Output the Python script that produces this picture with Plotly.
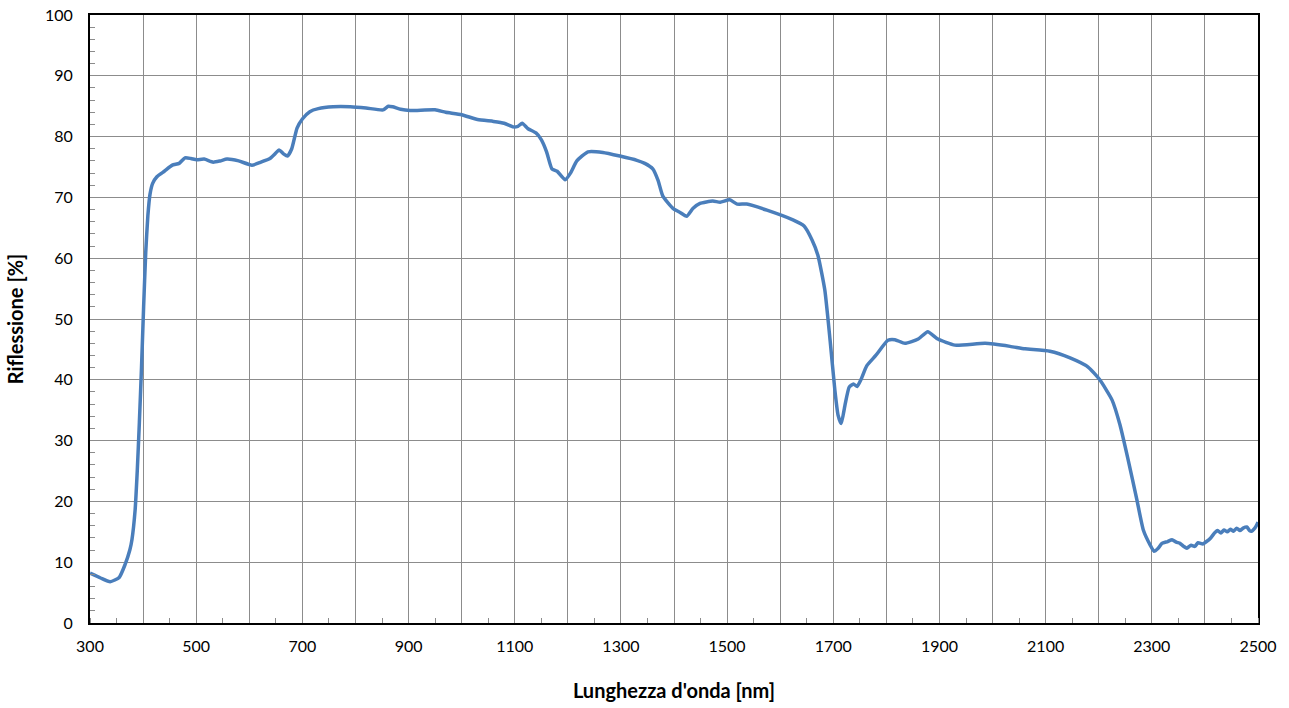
import plotly.graph_objects as go

# Wavelength [nm]
wavelength = [
    300, 320, 338, 355, 366, 375, 379, 385, 389, 393,
    397, 401, 405, 409, 413, 418, 426, 440, 455, 468,
    479, 490, 501, 515, 532, 545, 558, 580, 605, 622,
    639, 650, 656, 664, 672, 680, 690, 700, 714, 730,
    758, 790, 820, 852, 862, 870, 885, 903, 950, 970,
    1000, 1030, 1060, 1080, 1097, 1106, 1114, 1125, 1140, 1150,
    1160, 1170, 1180, 1195, 1205, 1217, 1238, 1266, 1298, 1330,
    1345, 1360, 1370, 1379, 1398, 1410, 1424, 1436, 1449, 1473,
    1487, 1505, 1519, 1537, 1575, 1624, 1645, 1660, 1671, 1684,
    1694, 1703, 1709, 1715, 1722, 1730, 1738, 1745, 1752, 1763,
    1780, 1803, 1816, 1835, 1860, 1878, 1897, 1929, 1986, 2033,
    2061, 2108, 2146, 2180, 2202, 2225, 2240, 2255, 2272, 2284,
    2297, 2304, 2312, 2319, 2330, 2338, 2346, 2353, 2360, 2366,
    2374, 2381, 2387, 2396, 2403, 2410, 2419, 2424, 2430, 2436,
    2442, 2448, 2454, 2460, 2466, 2472, 2479, 2484, 2488, 2494,
    2498, 2500,
]

# Reflectance [%]
reflectance = [
    8.2, 7.4, 6.8, 7.5, 9.6, 12.0, 13.7, 18.6, 25.0, 33.0,
    42.0, 52.0, 61.0, 67.0, 70.5, 72.3, 73.4, 74.3, 75.3, 75.6,
    76.5, 76.4, 76.2, 76.3, 75.8, 76.0, 76.3, 76.0, 75.3, 75.8,
    76.4, 77.3, 77.8, 77.2, 76.8, 78.0, 81.4, 82.9, 84.1, 84.6,
    84.9, 84.9, 84.7, 84.4, 85.0, 84.9, 84.5, 84.3, 84.4, 84.0,
    83.6, 82.8, 82.5, 82.2, 81.6, 81.7, 82.2, 81.3, 80.6, 79.5,
    77.5, 74.7, 74.3, 72.9, 74.0, 76.0, 77.5, 77.4, 76.8, 76.1,
    75.6, 74.7, 72.8, 70.2, 68.2, 67.6, 66.9, 68.2, 69.0, 69.4,
    69.2, 69.6, 68.9, 68.9, 67.9, 66.3, 65.3, 63.0, 60.5, 54.8,
    46.5, 38.3, 34.2, 32.8, 35.8, 38.8, 39.3, 38.9, 40.0, 42.3,
    44.0, 46.5, 46.6, 46.0, 46.7, 47.9, 46.7, 45.7, 46.0, 45.5,
    45.1, 44.7, 43.6, 42.1, 40.0, 36.7, 32.6, 27.0, 20.2, 15.3,
    12.8, 11.8, 12.3, 13.1, 13.4, 13.7, 13.3, 13.1, 12.6, 12.3,
    12.8, 12.6, 13.2, 13.0, 13.4, 13.9, 14.9, 15.2, 14.8, 15.3,
    15.0, 15.4, 15.1, 15.6, 15.2, 15.6, 15.8, 15.2, 15.1, 15.6,
    16.2, 16.6,
]

x_grid = list(range(300, 2501, 100))
x_labels = [str(v) if (v - 300) % 200 == 0 else "" for v in x_grid]

font_family = "Lato, 'Open Sans', Arial, sans-serif"

fig = go.Figure()
fig.add_trace(go.Scatter(
    x=wavelength, y=reflectance, mode="lines",
    line=dict(color="#4A7EBB", width=3.5, shape="spline", smoothing=0.5),
    showlegend=False, hoverinfo="x+y",
))

fig.update_layout(
    width=1289, height=708,
    margin=dict(l=90, r=31, t=15, b=85, autoexpand=False),
    paper_bgcolor="white", plot_bgcolor="white",
    font=dict(family=font_family, size=16, color="#000000"),
    xaxis=dict(
        range=[300, 2500], tickmode="array", tickvals=x_grid, ticktext=x_labels,
        showgrid=True, gridcolor="#8C8C8C", gridwidth=1,
        showline=True, linecolor="#000000", linewidth=2, mirror=True,
        ticks="", zeroline=False, ticklabelstandoff=8, automargin=False,
        ticklabeloverflow="allow",
        minor=dict(dtick=50, ticks="inside", ticklen=5, tickcolor="#8C8C8C", showgrid=False),
        title=dict(text="<b>Lunghezza d'onda [nm]</b>", font=dict(size=20), standoff=30),
    ),
    yaxis=dict(
        range=[0, 100], dtick=10, tick0=0,
        showgrid=True, gridcolor="#8C8C8C", gridwidth=1,
        showline=True, linecolor="#000000", linewidth=2, mirror=True,
        ticks="", zeroline=False, ticklabelstandoff=12, automargin=False,
        ticklabeloverflow="allow",
        minor=dict(dtick=2, ticks="inside", ticklen=5, tickcolor="#8C8C8C", showgrid=False),
        title=dict(text="<b>Riflessione [%]</b>", font=dict(size=20), standoff=16),
    ),
)

fig.write_html(
    "out.html",
    config={"displayModeBar": False},
    post_script="document.body.style.margin='0';document.body.style.overflow='hidden';",
)
